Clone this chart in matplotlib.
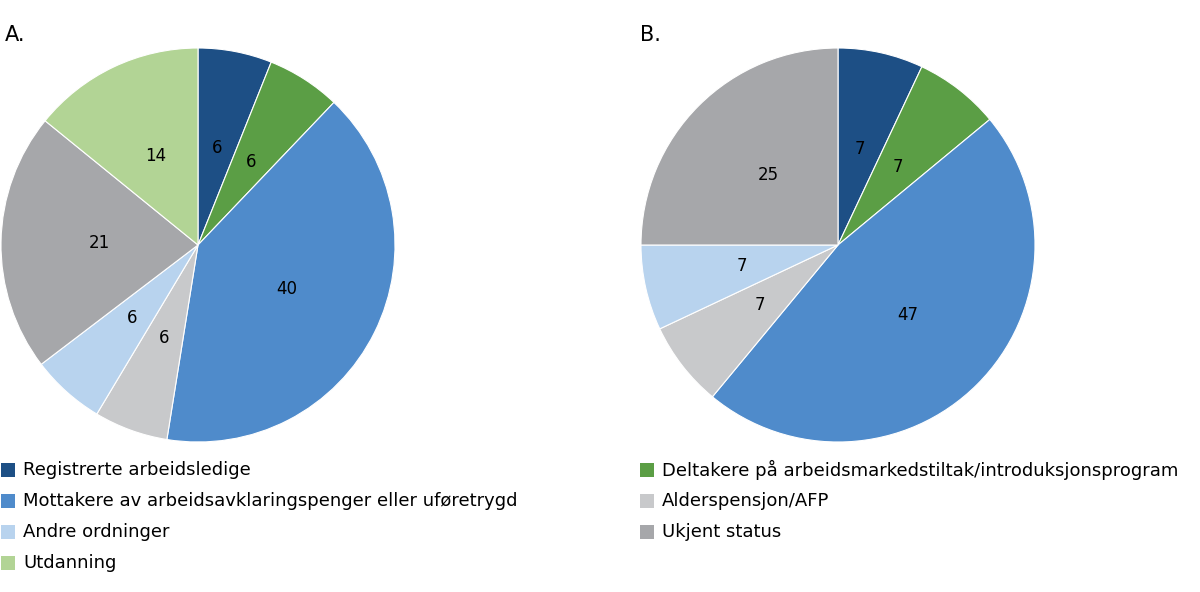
import matplotlib
matplotlib.use("Agg")
import matplotlib.pyplot as plt
from matplotlib.patches import Rectangle

cats = ["Registrerte arbeidsledige", "Deltakere på arbeidsmarkedstiltak/introduksjonsprogram",
        "Mottakere av arbeidsavklaringspenger eller uføretrygd", "Alderspensjon/AFP",
        "Andre ordninger", "Ukjent status", "Utdanning"]
colors = ["#1d4f85", "#5b9e45", "#4f8bcb", "#c8c9cb", "#b8d3ee", "#a6a7aa", "#b2d495"]
vals_a = [6, 6, 40, 6, 6, 21, 14]
vals_b = [7, 7, 47, 7, 7, 25]

W, H = 1200, 592
fig = plt.figure(figsize=(12, 5.92), dpi=100)

def pie(cx, cy, r, vals, title):
    ax = fig.add_axes([(cx - r) / W, (H - cy - r) / H, 2 * r / W, 2 * r / H])
    ax.pie(vals, colors=colors[:len(vals)], startangle=90, counterclock=False,
           labels=[str(v) for v in vals], labeldistance=0.5,
           textprops=dict(fontsize=12, ha="center", va="center"),
           wedgeprops=dict(edgecolor="white", linewidth=0.8))
    ax.set_xlim(-1, 1); ax.set_ylim(-1, 1); ax.set_aspect("equal"); ax.axis("off")
    fig.text((cx - r - 197 + 197 + 5 if False else cx - r + 5) / W, (H - 35) / H, title,
             fontsize=15, va="center", ha="left")

pie(198, 245, 197, vals_a, "")
pie(838, 245, 197, vals_b, "")
fig.text(5 / W, (H - 35) / H, "A.", fontsize=15, va="center")
fig.text(640 / W, (H - 35) / H, "B.", fontsize=15, va="center")

left = [0, 2, 4, 6]
right = [1, 3, 5]
def legend(x, idxs):
    for k, i in enumerate(idxs):
        y = 470 + 31 * k
        fig.add_artist(Rectangle((x / W, (H - y - 7) / H), 14 / W, 14 / H,
                                 transform=fig.transFigure, facecolor=colors[i], edgecolor="none"))
        fig.text((x + 22) / W, (H - y) / H, cats[i], fontsize=13, va="center")
legend(1, left)
legend(640, right)

fig.savefig("out.png", dpi=100)
